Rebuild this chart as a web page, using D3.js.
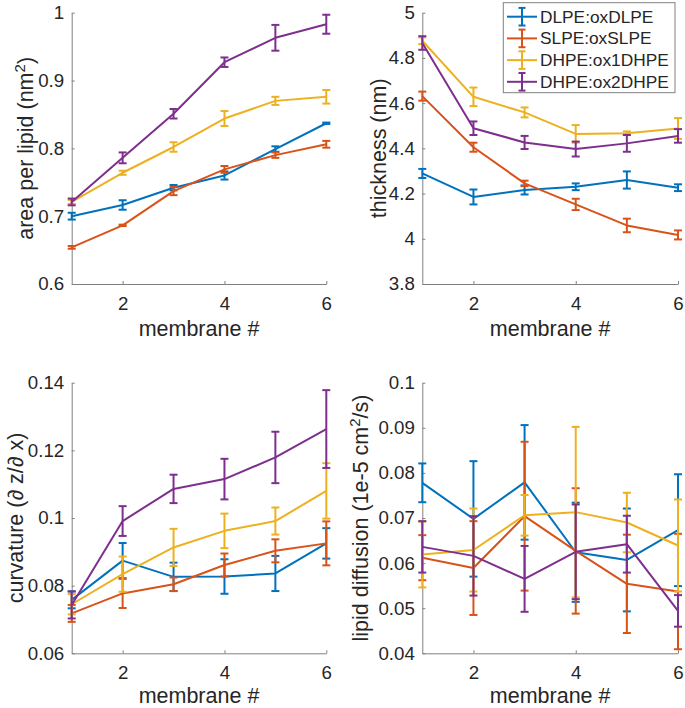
<!DOCTYPE html>
<html><head><meta charset="utf-8">
<script src="https://cdn.jsdelivr.net/npm/d3@7"></script>
<style>
body{margin:0;background:#fff}
svg{display:block;background:#fff}
text{font-family:"Liberation Sans",Arial,Helvetica,sans-serif;fill:#262626}
</style>
</head><body><svg id="c" width="685" height="708"></svg>
<script>
// ---------- data ----------
const membranes = [1, 2, 3, 4, 5, 6];
const xTickValues = [2, 4, 6];
const xTickLabels = ["2", "4", "6"];
const seriesNames = ["DLPE:oxDLPE", "SLPE:oxSLPE", "DHPE:ox1DHPE", "DHPE:ox2DHPE"];
const seriesColors = ["#0072BD", "#D95319", "#EDB120", "#7E2F8E"];

const areaMean = [
  [0.700, 0.7165, 0.742, 0.760, 0.799, 0.837],
  [0.654, 0.6865, 0.737, 0.769, 0.790, 0.806],
  [0.721, 0.764, 0.802, 0.844, 0.870, 0.876],
  [0.721, 0.786, 0.851, 0.927, 0.963, 0.983]
];
const areaErr = [
  [0.005, 0.007, 0.004, 0.006, 0.004, 0.001],
  [0.002, 0.001, 0.006, 0.005, 0.004, 0.005],
  [0.003, 0.003, 0.007, 0.011, 0.006, 0.010],
  [0.005, 0.008, 0.007, 0.007, 0.019, 0.014]
];
const areaTicks = [0.6, 0.7, 0.8, 0.9, 1.0];
const areaTickLabels = ["0.6", "0.7", "0.8", "0.9", "1"];

const thickMean = [
  [4.289, 4.185, 4.216, 4.230, 4.260, 4.226],
  [4.631, 4.405, 4.245, 4.152, 4.059, 4.017],
  [4.876, 4.628, 4.559, 4.464, 4.467, 4.488],
  [4.866, 4.489, 4.426, 4.397, 4.422, 4.455]
];
const thickErr = [
  [0.020, 0.033, 0.020, 0.015, 0.038, 0.015],
  [0.020, 0.020, 0.012, 0.025, 0.030, 0.020],
  [0.015, 0.041, 0.022, 0.039, 0.008, 0.046],
  [0.030, 0.030, 0.029, 0.033, 0.037, 0.030]
];
const thickTicks = [3.8, 4.0, 4.2, 4.4, 4.6, 4.8, 5.0];
const thickTickLabels = ["3.8", "4", "4.2", "4.4", "4.6", "4.8", "5"];

const curvMean = [
  [0.0758, 0.0874, 0.0826, 0.0827, 0.0836, 0.0925],
  [0.0718, 0.0777, 0.0804, 0.0861, 0.0903, 0.0925],
  [0.0745, 0.0834, 0.0913, 0.0962, 0.0991, 0.1080],
  [0.0743, 0.0991, 0.1086, 0.1115, 0.1179, 0.1263]
];
const curvErr = [
  [0.0025, 0.0052, 0.0042, 0.0051, 0.0052, 0.0045],
  [0.0025, 0.0043, 0.0020, 0.0034, 0.0034, 0.0065],
  [0.0030, 0.0052, 0.0055, 0.0051, 0.0040, 0.0082],
  [0.0040, 0.0044, 0.0042, 0.0060, 0.0076, 0.0115]
];
const curvTicks = [0.06, 0.08, 0.10, 0.12, 0.14];
const curvTickLabels = ["0.06", "0.08", "0.1", "0.12", "0.14"];

const diffMean = [
  [0.0778, 0.0698, 0.0779, 0.0624, 0.0607, 0.0673],
  [0.0612, 0.0589, 0.0704, 0.0627, 0.0554, 0.0537],
  [0.0619, 0.0629, 0.0706, 0.0713, 0.0690, 0.0639],
  [0.0636, 0.0616, 0.0565, 0.0625, 0.0642, 0.0494]
];
const diffErr = [
  [0.0043, 0.0128, 0.0127, 0.0110, 0.0114, 0.0124],
  [0.0050, 0.0104, 0.0165, 0.0139, 0.0109, 0.0128],
  [0.0073, 0.0092, 0.0045, 0.0189, 0.0066, 0.0102],
  [0.0057, 0.0088, 0.0073, 0.0105, 0.0063, 0.0035]
];
const diffTicks = [0.04, 0.05, 0.06, 0.07, 0.08, 0.09, 0.10];
const diffTickLabels = ["0.04", "0.05", "0.06", "0.07", "0.08", "0.09", "0.1"];

const xLabel = "membrane #";

// ---------- layout ----------
const TICK_FS = 18.7, LABEL_FS = 21.5, LEGEND_FS = 17.3;
const panels = [
  {mean: areaMean, err: areaErr, ticks: areaTicks, labels: areaTickLabels,
   domain: [0.6, 1.0], left: 71.7, right: 326.3, top: 12.7, bottom: 284, ylabX: 33, xlabDy: 52,
   ylab: [{t: "area per lipid (nm"}, {t: "2", sup: true}, {t: ")"}]},
  {mean: thickMean, err: thickErr, ticks: thickTicks, labels: thickTickLabels,
   domain: [3.8, 5.0], left: 422.3, right: 678, top: 12.7, bottom: 284, ylabX: 386, xlabDy: 52,
   ylab: [{t: "thickness (nm)"}]},
  {mean: curvMean, err: curvErr, ticks: curvTicks, labels: curvTickLabels,
   domain: [0.06, 0.14], left: 71.7, right: 326.3, top: 382.7, bottom: 653.3, ylabX: 23, xlabDy: 50,
   ylab: [{t: "curvature (\u2202 z/\u2202 x)"}]},
  {mean: diffMean, err: diffErr, ticks: diffTicks, labels: diffTickLabels,
   domain: [0.04, 0.10], left: 422.3, right: 678, top: 382.7, bottom: 653.3, ylabX: 368, xlabDy: 50,
   ylab: [{t: "lipid diffusion (1e-5 cm"}, {t: "2", sup: true}, {t: "/s)"}]}
];

const svg = d3.select("#c");
svg.append("rect").attr("width", 685).attr("height", 708).attr("fill", "#fff");

const AXIS_COLOR = "#808080";

panels.forEach(p => {
  const x = d3.scaleLinear().domain([1, 6]).range([p.left, p.right]);
  const y = d3.scaleLinear().domain(p.domain).range([p.bottom, p.top]);
  const g = svg.append("g");

  // axes
  const xa = g.append("g").attr("transform", `translate(0,${p.bottom})`)
    .call(d3.axisBottom(x).tickValues(xTickValues).tickFormat((d, i) => xTickLabels[i])
      .tickSize(-3).tickSizeOuter(0).tickPadding(12.5));
  const ya = g.append("g").attr("transform", `translate(${p.left},0)`)
    .call(d3.axisLeft(y).tickValues(p.ticks).tickFormat((d, i) => p.labels[i])
      .tickSize(-3).tickSizeOuter(0).tickPadding(7.5));
  [xa, ya].forEach(a => {
    a.select(".domain").attr("stroke", AXIS_COLOR).attr("stroke-width", 1);
    a.selectAll(".tick line").attr("stroke", AXIS_COLOR).attr("stroke-width", 1);
    a.selectAll(".tick text").attr("fill", "#262626").style("font-size", TICK_FS + "px")
      .style("font-family", '"Liberation Sans",Arial,Helvetica,sans-serif');
  });

  // x label
  g.append("text").attr("x", (p.left + p.right) / 2).attr("y", p.bottom + p.xlabDy)
    .attr("text-anchor", "middle").style("font-size", LABEL_FS + "px").text(xLabel);

  // y label
  const yl = g.append("text")
    .attr("transform", `translate(${p.ylabX},${(p.top + p.bottom) / 2}) rotate(-90)`)
    .attr("text-anchor", "middle").style("font-size", LABEL_FS + "px");
  let shifted = false;
  p.ylab.forEach(part => {
    const ts = yl.append("tspan").text(part.t);
    if (part.sup) { ts.attr("dy", -8).style("font-size", (LABEL_FS * 0.7) + "px"); shifted = true; }
    else if (shifted) { ts.attr("dy", 8); shifted = false; }
  });

  // series
  const line = d3.line().x((d, i) => x(membranes[i])).y(d => y(d));
  p.mean.forEach((vals, s) => {
    const col = seriesColors[s];
    const sg = g.append("g");
    sg.append("path").datum(vals).attr("d", line).attr("fill", "none")
      .attr("stroke", col).attr("stroke-width", 2).attr("stroke-linejoin", "round");
    vals.forEach((v, i) => {
      const e = p.err[s][i];
      const cx = x(membranes[i]);
      const y1 = y(v + e), y2 = y(v - e);
      sg.append("line").attr("x1", cx).attr("x2", cx).attr("y1", y1).attr("y2", y2)
        .attr("stroke", col).attr("stroke-width", 2);
      [y1, y2].forEach(yy => sg.append("line").attr("x1", cx - 4).attr("x2", cx + 4)
        .attr("y1", yy).attr("y2", yy).attr("stroke", col).attr("stroke-width", 2));
    });
  });
});

// legend (in thickness panel)
const lg = svg.append("g");
lg.append("rect").attr("x", 503.3).attr("y", 2.7).attr("width", 171.7).attr("height", 90)
  .attr("fill", "#fff").attr("stroke", AXIS_COLOR).attr("stroke-width", 1);
seriesNames.forEach((name, i) => {
  const cy = 16.7 + i * 21.7;
  const col = seriesColors[i];
  lg.append("line").attr("x1", 507).attr("x2", 537).attr("y1", cy).attr("y2", cy)
    .attr("stroke", col).attr("stroke-width", 2);
  lg.append("line").attr("x1", 522).attr("x2", 522).attr("y1", cy - 8.8).attr("y2", cy + 8.8)
    .attr("stroke", col).attr("stroke-width", 2);
  [cy - 8.8, cy + 8.8].forEach(yy => lg.append("line").attr("x1", 518.5).attr("x2", 525.5)
    .attr("y1", yy).attr("y2", yy).attr("stroke", col).attr("stroke-width", 2));
  lg.append("text").attr("x", 540).attr("y", cy).attr("dy", "0.35em")
    .style("font-size", LEGEND_FS + "px").text(name);
});
</script>
</body></html>
